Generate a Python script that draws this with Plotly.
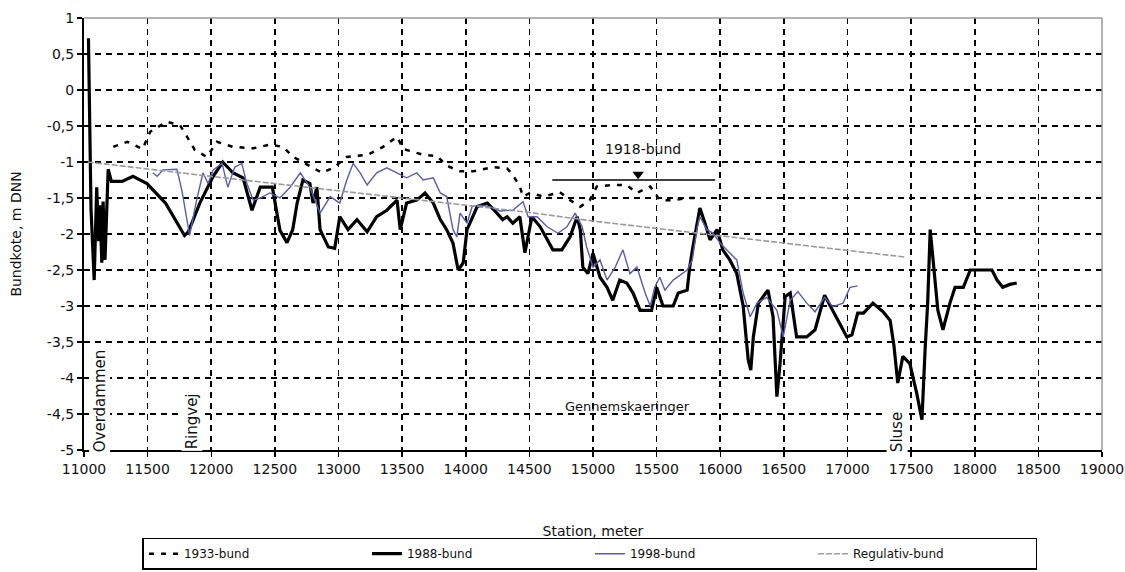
import plotly.graph_objects as go

# ---------------- data ----------------
station_1933 = [11230, 11340, 11460, 11520, 11650, 11755, 11810, 11870, 11965, 12045,
                12170, 12330, 12460, 12565, 12645, 12720, 12870, 12960, 13065, 13230,
                13350, 13460, 13510, 13665, 13775, 13850, 13955, 14055, 14215, 14325,
                14370, 14425, 14450, 14505, 14610, 14740, 14820, 14900, 14975, 15030,
                15155, 15265, 15345, 15450, 15525, 15630, 15740, 15840]
bund_1933 = [-0.79, -0.72, -0.82, -0.58, -0.44, -0.49, -0.65, -0.83, -0.93, -0.72,
             -0.79, -0.81, -0.76, -0.79, -0.93, -1.00, -1.15, -1.08, -0.93, -0.90,
             -0.79, -0.65, -0.82, -0.90, -0.92, -1.05, -1.13, -1.13, -1.07, -1.09,
             -1.18, -1.34, -1.48, -1.43, -1.48, -1.42, -1.53, -1.62, -1.53, -1.34,
             -1.32, -1.32, -1.43, -1.34, -1.53, -1.53, -1.50, -1.50]

station_1988 = [11035, 11055, 11080, 11100, 11115, 11125, 11140, 11150, 11165, 11190,
                11215, 11300, 11385, 11495, 11640, 11755, 11790, 11820, 11910, 12015,
                12090, 12170, 12250, 12320, 12385, 12480, 12540, 12595, 12640, 12675,
                12720, 12775, 12800, 12830, 12855, 12920, 12970, 13010, 13075, 13145,
                13225, 13300, 13380, 13460, 13485, 13535, 13615, 13680, 13745, 13800,
                13850, 13900, 13940, 13980, 14010, 14090, 14170, 14245, 14290, 14325,
                14370, 14425, 14465, 14520, 14585, 14685, 14755, 14820, 14875, 14900,
                14920, 14960, 15000, 15055, 15110, 15155, 15210, 15265, 15315, 15370,
                15460, 15500, 15550, 15630, 15670, 15740, 15760, 15785, 15825, 15840,
                15880, 15920, 15975, 16020, 16075, 16130, 16180, 16220, 16240, 16260,
                16300, 16375, 16415, 16445, 16470, 16510, 16550, 16600, 16680, 16745,
                16820, 16885, 16940, 16995, 17035, 17080, 17125, 17200, 17280, 17335,
                17365, 17395, 17435, 17490, 17545, 17585, 17610, 17630, 17650, 17675,
                17710, 17750, 17805, 17845, 17910, 17965, 18040, 18135, 18175, 18220,
                18275, 18330]
bund_1988 = [0.72, -1.65, -2.64, -1.35, -2.10, -1.60, -2.40, -1.55, -2.36, -1.10,
             -1.27, -1.27, -1.20, -1.30, -1.57, -1.90, -2.02, -1.97, -1.57, -1.20,
             -1.00, -1.15, -1.22, -1.67, -1.35, -1.35, -1.95, -2.12, -1.94, -1.57,
             -1.25, -1.30, -1.57, -1.35, -1.94, -2.18, -2.20, -1.76, -1.94, -1.80,
             -1.97, -1.76, -1.67, -1.53, -1.94, -1.57, -1.53, -1.43, -1.57, -1.80,
             -1.94, -2.13, -2.50, -2.40, -1.94, -1.62, -1.57, -1.71, -1.80, -1.76,
             -1.85, -1.76, -2.26, -1.76, -1.90, -2.22, -2.22, -2.04, -1.76, -1.94,
             -2.46, -2.55, -2.27, -2.60, -2.74, -2.92, -2.64, -2.68, -2.82, -3.06,
             -3.06, -2.74, -3.00, -3.00, -2.82, -2.78, -2.46, -2.18, -1.80, -1.64,
             -1.85, -2.08, -1.94, -2.22, -2.36, -2.55, -3.00, -3.75, -3.89, -3.43,
             -2.96, -2.78, -3.15, -4.26, -3.80, -2.87, -2.82, -3.43, -3.43, -3.33,
             -2.85, -3.06, -3.24, -3.43, -3.40, -3.10, -3.10, -2.96, -3.08, -3.20,
             -3.55, -4.07, -3.70, -3.80, -4.22, -4.58, -3.60, -2.96, -1.94, -2.40,
             -3.06, -3.33, -2.96, -2.74, -2.74, -2.50, -2.50, -2.50, -2.64, -2.74,
             -2.70, -2.68]

station_1998 = [11540, 11575, 11620, 11675, 11730, 11770, 11800, 11830, 11885, 11935,
                11975, 12015, 12085, 12130, 12185, 12240, 12280, 12330, 12385, 12460,
                12540, 12620, 12700, 12775, 12855, 12935, 13010, 13065, 13115, 13170,
                13225, 13300, 13380, 13460, 13535, 13615, 13665, 13745, 13800, 13850,
                13900, 13930, 13955, 14010, 14050, 14110, 14190, 14270, 14370, 14450,
                14490, 14560, 14640, 14725, 14795, 14860, 14915, 14950, 15000, 15055,
                15110, 15175, 15235, 15290, 15345, 15410, 15450, 15485, 15525, 15565,
                15630, 15740, 15780, 15820, 15840, 15895, 15945, 16000, 16075, 16130,
                16180, 16235, 16290, 16365, 16445, 16495, 16550, 16610, 16680, 16745,
                16820, 16885, 16965, 17020, 17080]
bund_1998 = [-1.15, -1.20, -1.11, -1.11, -1.10, -1.40, -1.70, -2.02, -1.53, -1.15,
             -1.30, -1.11, -1.02, -1.35, -1.07, -1.02, -1.30, -1.53, -1.50, -1.43,
             -1.50, -1.35, -1.15, -1.35, -1.71, -1.48, -1.57, -1.25, -1.02, -1.15,
             -1.32, -1.15, -1.08, -1.15, -1.22, -1.15, -1.25, -1.22, -1.43, -1.48,
             -1.94, -2.04, -1.71, -1.85, -1.62, -1.60, -1.62, -1.68, -1.67, -1.55,
             -1.76, -1.76, -1.90, -1.99, -1.90, -1.71, -1.90, -2.18, -2.46, -2.36,
             -2.64, -2.46, -2.22, -2.55, -2.46, -2.82, -3.00, -2.74, -2.60, -2.78,
             -2.64, -2.50, -2.36, -1.90, -1.76, -1.94, -1.99, -2.13, -2.27, -2.36,
             -2.82, -3.15, -2.96, -2.88, -3.06, -3.43, -2.92, -2.80, -2.96, -3.08,
             -2.88, -3.01, -2.96, -2.74, -2.72]

station_reg = [11030, 11400, 12000, 12500, 13000, 13500, 14000, 14500, 15000, 15500,
               16000, 16500, 17000, 17450]
bund_reg = [-1.00, -1.08, -1.20, -1.30, -1.40, -1.50, -1.60, -1.70, -1.82, -1.92,
            -2.02, -2.12, -2.22, -2.32]

bund1918_x = [14680, 15960]
bund1918_y = -1.25
bund1918_arrow = (15355, -1.17)

x_ticks = list(range(11000, 19001, 500))
y_ticks = [1, 0.5, 0, -0.5, -1, -1.5, -2, -2.5, -3, -3.5, -4, -4.5, -5]
y_labels = ["1", "0,5", "0", "-0,5", "-1", "-1,5", "-2", "-2,5", "-3", "-3,5",
            "-4", "-4,5", "-5"]

FONT = "DejaVu Sans"

fig = go.Figure()
fig.add_trace(go.Scatter(x=station_1933, y=bund_1933, mode="lines", name="1933-bund",
                         line=dict(color="black", width=2.5, dash="5px,7px")))
fig.add_trace(go.Scatter(x=station_1988, y=bund_1988, mode="lines", name="1988-bund",
                         line=dict(color="black", width=3.2)))
fig.add_trace(go.Scatter(x=station_1998, y=bund_1998, mode="lines", name="1998-bund",
                         line=dict(color="#5b5bb0", width=1.4)))
fig.add_trace(go.Scatter(x=station_reg, y=bund_reg, mode="lines", name="Regulativ-bund",
                         line=dict(color="#9a9a9a", width=1.6, dash="6px,2px")))
fig.add_trace(go.Scatter(x=[bund1918_x[0], bund1918_x[1]], y=[bund1918_y, bund1918_y],
                         mode="lines", showlegend=False, hoverinfo="skip",
                         line=dict(color="black", width=1.5)))
fig.add_trace(go.Scatter(x=[bund1918_arrow[0]], y=[bund1918_arrow[1]], mode="markers",
                         showlegend=False, hoverinfo="skip",
                         marker=dict(symbol="triangle-down", size=10, color="black")))

axis_common = dict(showgrid=True, gridcolor="black", griddash="6px,5px", gridwidth=1.6,
                   showline=True, linecolor="black", linewidth=2, zeroline=False,
                   ticks="outside", ticklen=5, tickwidth=1.5, tickcolor="black",
                   automargin=False,
                   tickfont=dict(family=FONT, size=14, color="#111"))

fig.update_layout(
    width=1125, height=572,
    margin=dict(l=84, r=23, t=18, b=122, autoexpand=False),
    plot_bgcolor="white", paper_bgcolor="white",
    font=dict(family=FONT, size=13, color="#111"),
    xaxis=dict(range=[11000, 19000], tickvals=x_ticks, tickformat="d",
               title=dict(text="Station, meter", font=dict(family=FONT, size=14),
                          standoff=50),
               **axis_common),
    yaxis=dict(range=[-5, 1], tickvals=y_ticks, ticktext=y_labels,
               title=dict(text="Bundkote, m DNN", font=dict(family=FONT, size=14),
                          standoff=22),
               **axis_common),
    legend=dict(orientation="h", x=0.497, xanchor="center", y=-0.203, yanchor="top",
                bordercolor="black", borderwidth=1.5, bgcolor="white",
                entrywidth=178, font=dict(family=FONT, size=12)),
    shapes=[
        dict(type="line", xref="paper", yref="paper", x0=0, x1=1, y0=1, y1=1,
             line=dict(color="#9a9a9a", width=1.5)),
        dict(type="line", xref="paper", yref="paper", x0=1, x1=1, y0=0, y1=1,
             line=dict(color="#9a9a9a", width=1.5)),
    ],
    annotations=[
        dict(x=15390, y=-0.82, text="1918-bund", showarrow=False,
             font=dict(family=FONT, size=14)),
        dict(x=15270, y=-4.4, text="Gennemskaeringer", showarrow=False,
             font=dict(family=FONT, size=13)),
        dict(x=11125, y=-4.31, text="Overdammen", textangle=-90, showarrow=False,
             bgcolor="white", font=dict(family=FONT, size=15)),
        dict(x=11850, y=-4.6, text="Ringvej", textangle=-90, showarrow=False,
             bgcolor="white", font=dict(family=FONT, size=15)),
        dict(x=17390, y=-4.75, text="Sluse", textangle=-90, showarrow=False,
             bgcolor="white", font=dict(family=FONT, size=15)),
    ],
)

fig.write_html("out.html",
               config={"displayModeBar": False, "staticPlot": True},
               post_script="document.body.style.margin='0';document.body.style.overflow='hidden';")
